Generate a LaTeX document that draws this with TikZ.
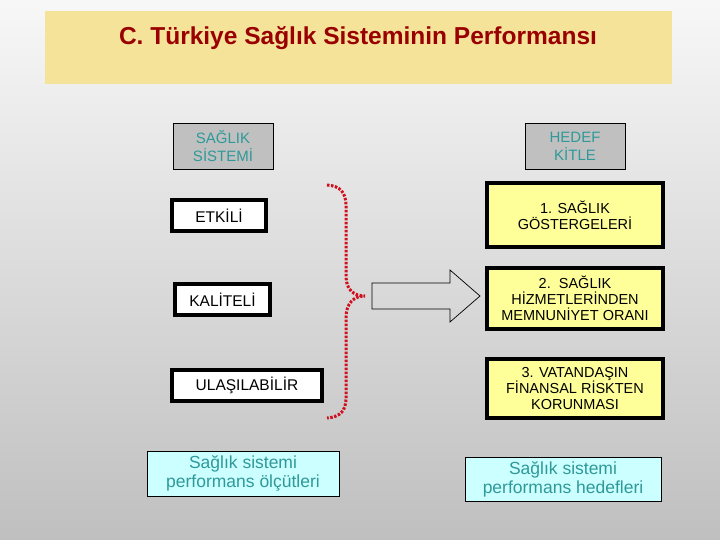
\documentclass[tikz,border=0pt]{standalone}
\usepackage{fontspec}
\setmainfont{Liberation Sans}
\usetikzlibrary{shapes.arrows}
\definecolor{titlebg}{HTML}{F6E39A}
\definecolor{titlered}{HTML}{990000}
\definecolor{teal}{HTML}{2F9999}
\definecolor{boxgray}{HTML}{C0C0C0}
\definecolor{boxyellow}{HTML}{FFFF99}
\definecolor{boxcyan}{HTML}{CCFFFF}
\definecolor{bracered}{HTML}{D0101E}
\tikzset{
  headbox/.style={draw=black, line width=0.8pt, fill=boxgray, text=teal, align=center,
    font=\fontsize{15}{18}\selectfont, inner sep=0pt},
  critbox/.style={draw=black, line width=3.5pt, fill=white, align=center,
    font=\fontsize{15.5}{17}\selectfont, inner sep=0pt},
  goalbox/.style={draw=black, line width=3.5pt, fill=boxyellow, align=center,
    font=\fontsize{14.5}{16}\selectfont, inner sep=0pt},
  notebox/.style={draw=black, line width=0.8pt, fill=boxcyan, text=teal, align=center,
    font=\fontsize{17.5}{19}\selectfont, inner sep=0pt},
}
\begin{document}
\begin{tikzpicture}[x=1pt,y=-1pt]
\shade[top color=white!97!black, bottom color=white!75!black] (0,0) rectangle (720,540);
\useasboundingbox (0,0) rectangle (720,540);
% title
\node[fill=titlebg, minimum width=627pt, minimum height=73pt, inner sep=0pt] (titlebox) at (358.5,47.5) {};
\node[text=titlered, font=\fontsize{24.5}{27}\selectfont\bfseries] (title) at (358,38) {C. Türkiye Sağlık Sisteminin Performansı};
% headers
\node[headbox, minimum width=100pt, minimum height=46pt] (sys) at (223,146) {SAĞLIK\\SİSTEMİ};
\node[headbox, minimum width=100pt, minimum height=46pt] (tgt) at (575,146) {HEDEF\\KİTLE};
% criteria
\node[critbox, minimum width=94pt, minimum height=31pt] (etk) at (219,215.5) {ETKİLİ};
\node[critbox, minimum width=95pt, minimum height=31pt] (kal) at (222.5,299.5) {KALİTELİ};
\node[critbox, minimum width=150pt, minimum height=31pt] (ula) at (247,385.5) {ULAŞILABİLİR};
% goals
\node[goalbox, minimum width=176pt, minimum height=64pt] (g1) at (575,215) {1. SAĞLIK\\GÖSTERGELERİ};
\node[goalbox, minimum width=176pt, minimum height=61pt] (g2) at (575,298.5) {2.\ \ SAĞLIK\\HİZMETLERİNDEN\\MEMNUNİYET ORANI};
\node[goalbox, minimum width=176pt, minimum height=59pt] (g3) at (575,388.5) {3. VATANDAŞIN\\FİNANSAL RİSKTEN\\KORUNMASI};
% notes
\node[notebox, minimum width=192pt, minimum height=45pt] (n1) at (243,473.5) {Sağlık sistemi\\performans ölçütleri};
\node[notebox, minimum width=196pt, minimum height=44pt] (n2) at (563,479) {Sağlık sistemi\\performans hedefleri};
% brace
\coordinate (btop) at (327,185);
\coordinate (btip) at (365,296);
\coordinate (bbot) at (327,418);
\draw[bracered, line width=3pt, dash pattern=on 2.5pt off 1.5pt]
  (btop) .. controls (340,186) and (346,192) .. (346,206) -- (346,276)
  .. controls (346,290) and (354,296) .. (btip)
  .. controls (354,296) and (346,303) .. (346,318) -- (346,398)
  .. controls (346,411) and (340,417) .. (bbot);
% block arrow
\draw[black, line width=0.7pt, line join=miter]
  (372,283) -- (450,283) -- (450,270) -- (480,296) -- (450,322) -- (450,309) -- (372,309) -- cycle;
\end{tikzpicture}
\end{document}
